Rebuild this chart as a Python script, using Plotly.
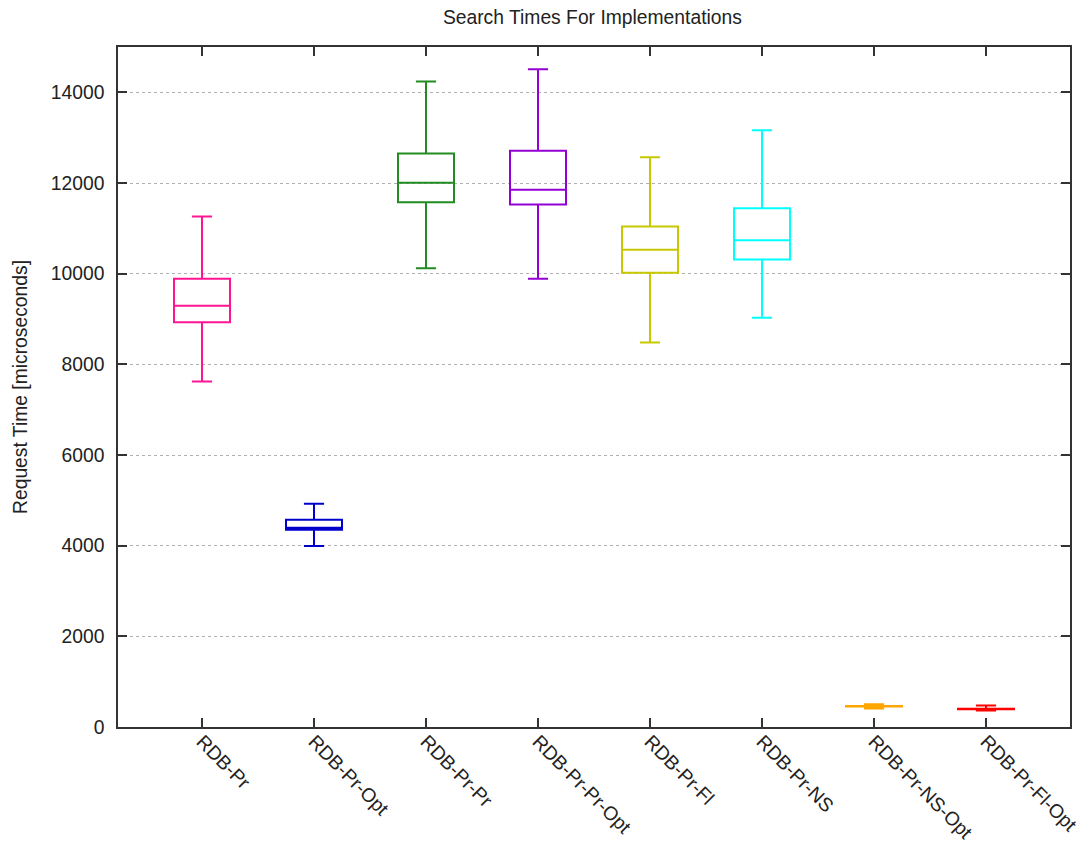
import plotly.graph_objects as go

categories = ["RDB-Pr", "RDB-Pr-Opt", "RDB-Pr-Pr", "RDB-Pr-Pr-Opt", "RDB-Pr-Fl",
              "RDB-Pr-NS", "RDB-Pr-NS-Opt", "RDB-Pr-Fl-Opt"]
lower_whisker = [7623, 3991, 10121, 9888, 8483, 9028, 410, 365]
q1_values = [8931, 4353, 11577, 11526, 10020, 10313, 450, 392]
median_values = [9292, 4397, 12004, 11850, 10527, 10739, 456, 397]
q3_values = [9887, 4573, 12651, 12710, 11041, 11444, 462, 402]
upper_whisker = [11261, 4926, 14238, 14509, 12569, 13164, 500, 475]
colors = ["#ff1493", "#0000cd", "#228b22", "#9400d3", "#c8c800", "#00ffff", "#ffa500", "#ff0000"]
y_ticks = [0, 2000, 4000, 6000, 8000, 10000, 12000, 14000]

FONT = "Liberation Sans, Arial, sans-serif"
FS = 19.3

fig = go.Figure()
for i, cat in enumerate(categories):
    fig.add_trace(go.Box(
        x=[cat],
        q1=[q1_values[i]],
        median=[median_values[i]],
        q3=[q3_values[i]],
        lowerfence=[lower_whisker[i]],
        upperfence=[upper_whisker[i]],
        width=0.5,
        whiskerwidth=0.36,
        line=dict(color=colors[i], width=2),
        fillcolor="rgba(0,0,0,0)",
        boxpoints=False,
        showlegend=False,
        hoverinfo="skip",
    ))

fig.update_layout(
    width=1083,
    height=835,
    paper_bgcolor="white",
    plot_bgcolor="white",
    margin=dict(l=110, r=21, t=39, b=116, autoexpand=False),
    font=dict(family=FONT, size=FS, color="#222222"),
    title=dict(text="Search Times For Implementations", x=0.5396, xanchor="center",
               y=0.9892, yanchor="middle", automargin=False,
               font=dict(family=FONT, size=FS, color="#222222")),
    showlegend=False,
)

fig.update_xaxes(
    type="category",
    categoryorder="array",
    categoryarray=categories,
    range=[-0.75, 7.75],
    automargin=False,
    showgrid=False,
    zeroline=False,
    showline=True,
    linecolor="#333333",
    linewidth=1.5,
    mirror="ticks",
    ticks="inside",
    ticklen=9,
    tickwidth=1.5,
    tickcolor="#333333",
    tickangle=45,
    ticklabelstandoff=-6,
    tickfont=dict(family=FONT, size=FS, color="#222222"),
)

fig.update_yaxes(
    range=[0, 15000],
    tickvals=y_ticks,
    ticktext=[str(v) for v in y_ticks],
    automargin=False,
    showgrid=True,
    gridcolor="#b0b0b0",
    griddash="dot",
    gridwidth=1,
    zeroline=False,
    showline=True,
    linecolor="#333333",
    linewidth=1.5,
    mirror="ticks",
    ticks="inside",
    ticklen=9,
    tickwidth=1.5,
    tickcolor="#333333",
    ticklabelstandoff=8,
    tickfont=dict(family=FONT, size=FS, color="#222222"),
    title=dict(text="Request Time [microseconds]", standoff=18,
               font=dict(family=FONT, size=FS, color="#222222")),
)

fig.write_html("out.html")
